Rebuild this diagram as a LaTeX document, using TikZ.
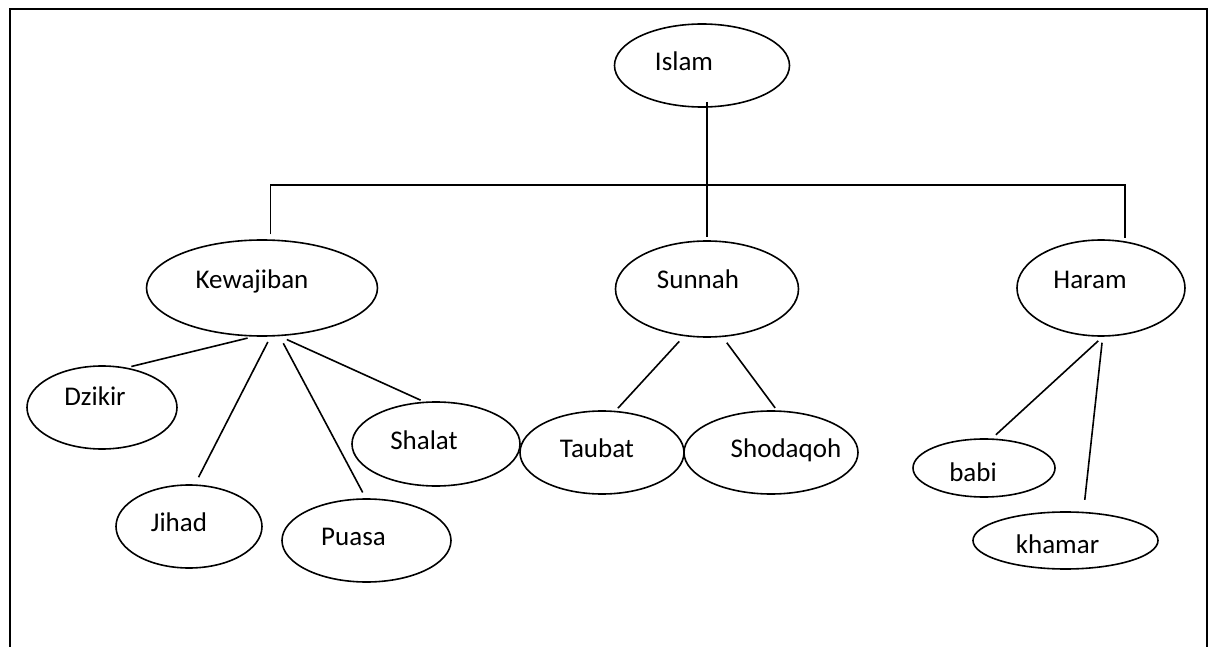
\documentclass[tikz,border=0pt]{standalone}
\usepackage{fontspec}
\setmainfont{Carlito}
\usetikzlibrary{shapes.geometric}

\begin{document}
\begin{tikzpicture}[x=0.5pt, y=-0.5pt,
  pad/.style={execute at end node={\hspace*{#1}}},
  bubble/.style={draw, ellipse, line width=0.8pt, inner sep=0pt,
    text height=10pt, text depth=5pt,
    font=\fontsize{13.5}{16}\selectfont},
  headbox/.style={text depth=10pt},
  flatbox/.style={text height=14pt, text depth=1pt},
  link/.style={line width=0.8pt},
  frame/.style={line width=0.9pt}]
  \useasboundingbox (0,0) rectangle (1212,647);
  \draw[frame] (10,650) -- (10,9) -- (1207,9) -- (1207,650);

  \node[bubble, minimum width=87.5pt, minimum height=41.5pt, pad=18pt] (islam) at (702,65.5) {Islam};
  \node[bubble, headbox, minimum width=115.5pt, minimum height=48pt, pad=10pt] (kewajiban) at (262,288) {Kewajiban};
  \node[bubble, headbox, minimum width=91.5pt, minimum height=48pt, pad=9pt] (sunnah) at (707,289) {Sunnah};
  \node[bubble, headbox, minimum width=84pt, minimum height=48pt, pad=11pt] (haram) at (1101,288) {Haram};

  \node[bubble, text depth=12pt, minimum width=75pt, minimum height=41.5pt, pad=7pt] (dzikir) at (102,407.5) {Dzikir};
  \node[bubble, minimum width=73pt, minimum height=41.5pt, pad=10pt] (jihad) at (189,526.5) {Jihad};
  \node[bubble, minimum width=84.5pt, minimum height=41.5pt, pad=13pt] (puasa) at (366.5,540.5) {Puasa};
  \node[bubble, minimum width=84pt, minimum height=42pt, pad=12pt] (shalat) at (436,444) {Shalat};
  \node[bubble, minimum width=82pt, minimum height=41.5pt, pad=5pt] (taubat) at (602,452.5) {Taubat};
  \node[bubble, minimum width=87pt, minimum height=41.5pt, inner xsep=-8pt,
    execute at begin node={\hspace*{15pt}}] (shodaqoh) at (771,452.5) {Shodaqoh};
  \node[bubble, flatbox, minimum width=71pt, minimum height=29pt, pad=11pt] (babi) at (984,468) {babi};
  \node[bubble, flatbox, minimum width=92.5pt, minimum height=28.5pt, pad=8pt] (khamar) at (1065.5,540.5) {khamar};

  \coordinate (bar) at (708,185);
  \draw[link, shorten <=-3pt, shorten >=1.5pt] (islam.south -| sunnah.north) -- (sunnah.north);
  \draw[link, shorten <=2.5pt, shorten >=1.5pt] (kewajiban.80.5) |- (bar) -| (haram.63.5);

  \draw[link, shorten <=3pt, shorten >=2.25pt] (kewajiban.-100.5) -- (dzikir.58);
  \draw[link, shorten <=3pt, shorten >=4pt] (kewajiban.-80.5) -- (jihad.82);
  \draw[link, shorten <=4pt, shorten >=3.25pt] (kewajiban.-70) -- (puasa.91);
  \draw[link, shorten <=4pt, shorten >=1.8pt] (kewajiban.-70) -- (shalat.106);

  \draw[link, shorten <=3.5pt, shorten >=1.75pt] (sunnah.-116) -- (taubat.72.5);
  \draw[link, shorten <=3.5pt, shorten >=1.5pt] (sunnah.-72.5) -- (shodaqoh.82.3);

  \draw[link, shorten <=3pt, shorten >=2.7pt] (haram.-88) -- (babi.75);
  \draw[link, shorten <=3pt, shorten >=6pt] (haram.-88) -- (khamar.58.6);
\end{tikzpicture}
\end{document}
